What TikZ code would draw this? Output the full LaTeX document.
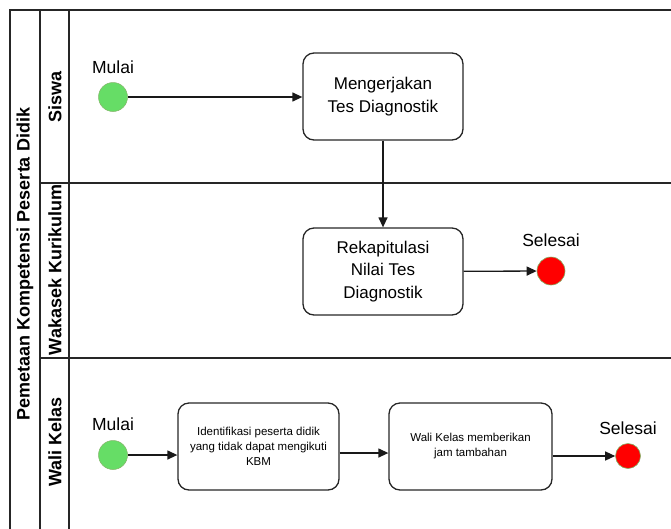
\documentclass[tikz,border=0pt]{standalone}
\usepackage{fontspec}
\setmainfont{Liberation Sans}
\usetikzlibrary{arrows.meta}
\definecolor{startg}{HTML}{66DD66}
\definecolor{startb}{HTML}{82B366}
\definecolor{endr}{HTML}{FF0000}
\begin{document}
\begin{tikzpicture}[x=1pt,y=-1pt,
  lane/.style={draw=black!85,line width=1.1pt},
  act/.style={draw=black!85,line width=1.3pt,rounded corners=11pt,align=center,font=\fontsize{17}{22.5}\selectfont},
  smallact/.style={draw=black!85,line width=1.3pt,rounded corners=11pt,align=center,font=\fontsize{11.5}{15}\selectfont},
  startc/.style={circle,fill=startg,draw=startb,line width=0.5pt,minimum size=29pt,inner sep=0pt},
  endc/.style={circle,fill=endr,draw=startb,line width=0.6pt,inner sep=0pt},
  lbl/.style={font=\fontsize{17.5}{20}\selectfont},
  lanetitle/.style={rotate=90,font=\bfseries\fontsize{18}{20}\selectfont},
  flow/.style={-{Triangle[length=10pt,width=9pt]},line width=1.3pt,black!90}
]
\useasboundingbox (0,0) rectangle (671,528);
\begin{scope}
\clip (0,0) rectangle (671,528);
% pool and lanes
\draw[lane] (10,540) -- (10,10) -- (700,10);
\draw[lane] (40,10) -- (40,540);
\draw[lane] (69,10) -- (69,540);
\draw[lane] (40,183) -- (700,183);
\draw[lane] (40,358) -- (700,358);
\end{scope}
\node[lanetitle] (pool) at (25,264) {Pemetaan Kompetensi Peserta Didik};
\node[lanetitle] (l1) at (55,97) {Siswa};
\node[lanetitle] (l2) at (55,270) {Wakasek Kurikulum};
\node[lanetitle] (l3) at (55,442) {Wali Kelas};

% Siswa lane
\node[startc] (s1) at (113,97) {};
\node[lbl] (s1l) at (113,67) {Mulai};
\node[act,minimum width=160pt,minimum height=87pt] (a1) at (383,96.5) {Mengerjakan\\Tes Diagnostik};

% Wakasek lane
\node[act,minimum width=160pt,minimum height=87pt] (a2) at (383,271.5) {Rekapitulasi\\Nilai Tes\\Diagnostik};
\node[endc,minimum size=28pt] (e1) at (551,271) {};
\node[lbl] (e1l) at (551,240) {Selesai};

% Wali Kelas lane
\node[startc] (s2) at (113,455) {};
\node[lbl] (s2l) at (113,424) {Mulai};
\node[smallact,minimum width=161pt,minimum height=87pt] (a3) at (258.5,446.5) {Identifikasi peserta didik\\yang tidak dapat mengikuti\\KBM};
\node[smallact,minimum width=163pt,minimum height=87pt] (a4) at (470.5,446.5) {Wali Kelas memberikan\\jam tambahan};
\node[endc,minimum size=25pt] (e2) at (628,456) {};
\node[lbl] (e2l) at (628,428) {Selesai};

% flows
\draw[flow] (s1) -- (a1.west |- s1);
\draw[flow] (a1) -- (a2);
\draw[flow] (a2) -- (e1);
\draw[flow] (s2) -- (a3.west |- s2);
\draw[flow] (a3.east |- 0,453) -- (a4.west |- 0,453);
\draw[flow] (a4.east |- e2) -- (e2);
\end{tikzpicture}
\end{document}
